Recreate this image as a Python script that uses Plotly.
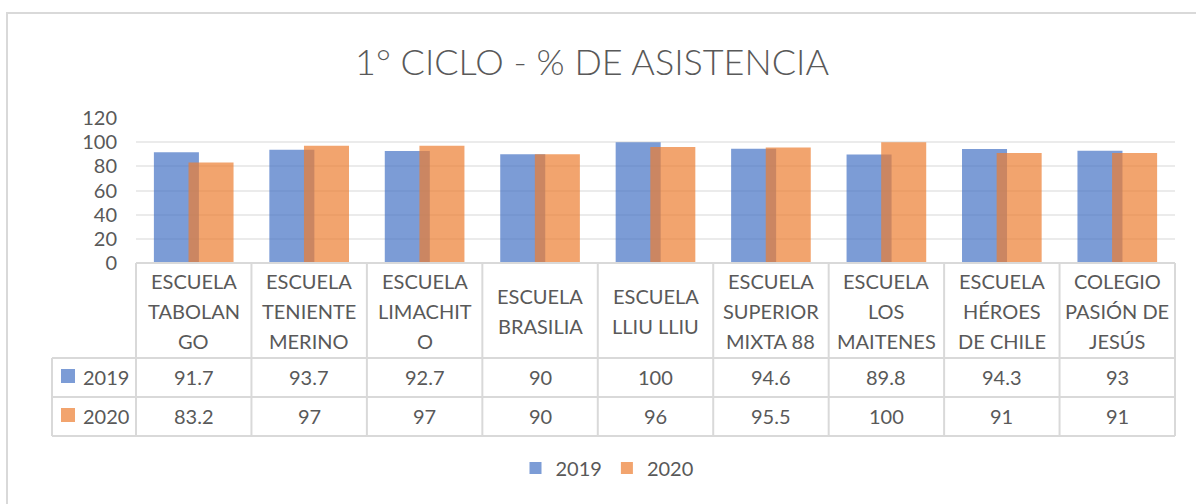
import plotly.graph_objects as go

# ---------------- data ----------------
categories = [
    "ESCUELA TABOLANGO", "ESCUELA TENIENTE MERINO", "ESCUELA LIMACHITO",
    "ESCUELA BRASILIA", "ESCUELA LLIU LLIU", "ESCUELA SUPERIOR MIXTA 88",
    "ESCUELA LOS MAITENES", "ESCUELA HÉROES DE CHILE", "COLEGIO PASIÓN DE JESÚS",
]
category_lines = [
    ["ESCUELA", "TABOLAN", "GO"],
    ["ESCUELA", "TENIENTE", "MERINO"],
    ["ESCUELA", "LIMACHIT", "O"],
    ["ESCUELA", "BRASILIA"],
    ["ESCUELA", "LLIU LLIU"],
    ["ESCUELA", "SUPERIOR", "MIXTA 88"],
    ["ESCUELA", "LOS", "MAITENES"],
    ["ESCUELA", "HÉROES", "DE CHILE"],
    ["COLEGIO", "PASIÓN DE", "JESÚS"],
]
series_names = ["2019", "2020"]
values_2019 = [91.7, 93.7, 92.7, 90, 100, 94.6, 89.8, 94.3, 93]
values_2020 = [83.2, 97, 97, 90, 96, 95.5, 100, 91, 91]
y_ticks = [0, 20, 40, 60, 80, 100, 120]
title_text = "1° CICLO - % DE ASISTENCIA"

# ---------------- style ----------------
W, H = 1196, 504
L, R, T, B = 136, 1175, 118, 263          # plot area in pixels
FONT = "Lato"
TXT = "#595959"
LINE = "#D9D9D9"
colors = ["rgba(68,114,196,0.7)", "rgba(237,125,49,0.7)"]


def px_x(p):
    return (p - L) / (R - L)


def px_y(p):
    return (B - p) / (B - T)


fig = go.Figure()
x_idx = list(range(len(categories)))
for name, vals, col, off in zip(series_names, [values_2019, values_2020], colors, [-0.345, -0.045]):
    fig.add_trace(go.Bar(
        x=x_idx, y=vals, name=name, width=0.39, offset=off,
        marker=dict(color=col, line=dict(width=0)),
        hovertext=categories,
    ))

shapes = []
annotations = []

# chart outer border
shapes.append(dict(type="rect", xref="paper", yref="paper",
                   x0=px_x(7), x1=px_x(1400), y0=px_y(13), y1=px_y(800),
                   line=dict(color=LINE, width=2), fillcolor="rgba(0,0,0,0)", layer="below"))

n = len(categories)
# table horizontal lines
shapes.append(dict(type="line", xref="paper", yref="paper", x0=0, x1=1,
                   y0=0, y1=0, line=dict(color=LINE, width=2)))
for py in [358, 397, 436]:
    shapes.append(dict(type="line", xref="paper", yref="paper", x0=px_x(52), x1=1,
                       y0=px_y(py), y1=px_y(py), line=dict(color=LINE, width=2)))
# table vertical lines
for i in range(n + 1):
    xp = i / n
    shapes.append(dict(type="line", xref="paper", yref="paper", x0=xp, x1=xp,
                       y0=0, y1=px_y(436), line=dict(color=LINE, width=2)))
shapes.append(dict(type="line", xref="paper", yref="paper", x0=px_x(52), x1=px_x(52),
                   y0=px_y(358), y1=px_y(436), line=dict(color=LINE, width=2)))

# header (category) cells, text vertically centred in the cell
line_ys = {3: [281, 311, 341], 2: [296, 326], 1: [311]}
for i, lines in enumerate(category_lines):
    ys = line_ys[len(lines)]
    for j, ln in enumerate(lines):
        annotations.append(dict(x=i, y=px_y(ys[j]), xref="x", yref="paper",
                                text=ln, showarrow=False, xanchor="center", yanchor="middle",
                                font=dict(family=FONT, size=20, color=TXT)))

# value rows
row_ys = [377, 416]
for r, (name, vals, col) in enumerate(zip(series_names, [values_2019, values_2020], colors)):
    yc = row_ys[r]
    shapes.append(dict(type="rect", xref="paper", yref="paper",
                       x0=px_x(61), x1=px_x(75), y0=px_y(yc - 8), y1=px_y(yc + 6),
                       fillcolor=col, line=dict(width=0)))
    annotations.append(dict(x=px_x(81), y=px_y(yc), xref="paper", yref="paper",
                            text=name, showarrow=False, xanchor="left", yanchor="middle",
                            font=dict(family=FONT, size=20, color=TXT)))
    for i, v in enumerate(vals):
        annotations.append(dict(x=i, y=px_y(yc), xref="x", yref="paper",
                                text=f"{v:g}", showarrow=False, xanchor="center", yanchor="middle",
                                font=dict(family=FONT, size=20, color=TXT)))

fig.update_layout(
    width=W, height=H,
    margin=dict(l=L, r=W - R, t=T, b=H - B, autoexpand=False),
    paper_bgcolor="white", plot_bgcolor="white",
    barmode="overlay",
    title=dict(text=title_text, x=px_x(592), xref="paper", xanchor="center",
               y=1 - 62 / H, yanchor="middle",
               font=dict(family=FONT, size=36, color=TXT, weight=300)),
    xaxis=dict(range=[-0.5, n - 0.5], showticklabels=False, showgrid=False,
               zeroline=False, showline=False, ticks=""),
    yaxis=dict(range=[0, 120], tickvals=y_ticks, showgrid=True, gridcolor="#EBEBEB",
               gridwidth=1.5, zeroline=False, showline=False, ticks="",
               ticklabelstandoff=18,
               tickfont=dict(family=FONT, size=20, color=TXT)),
    legend=dict(orientation="h", x=px_x(607), xanchor="center", y=px_y(468), yanchor="middle",
                font=dict(family=FONT, size=20, color=TXT), itemwidth=30,
                bgcolor="rgba(0,0,0,0)"),
    shapes=shapes,
    annotations=annotations,
    showlegend=True,
)

fig.write_html("out.html", config={"displayModeBar": False},
               post_script="document.body.style.margin='0';document.body.style.overflow='hidden';")
